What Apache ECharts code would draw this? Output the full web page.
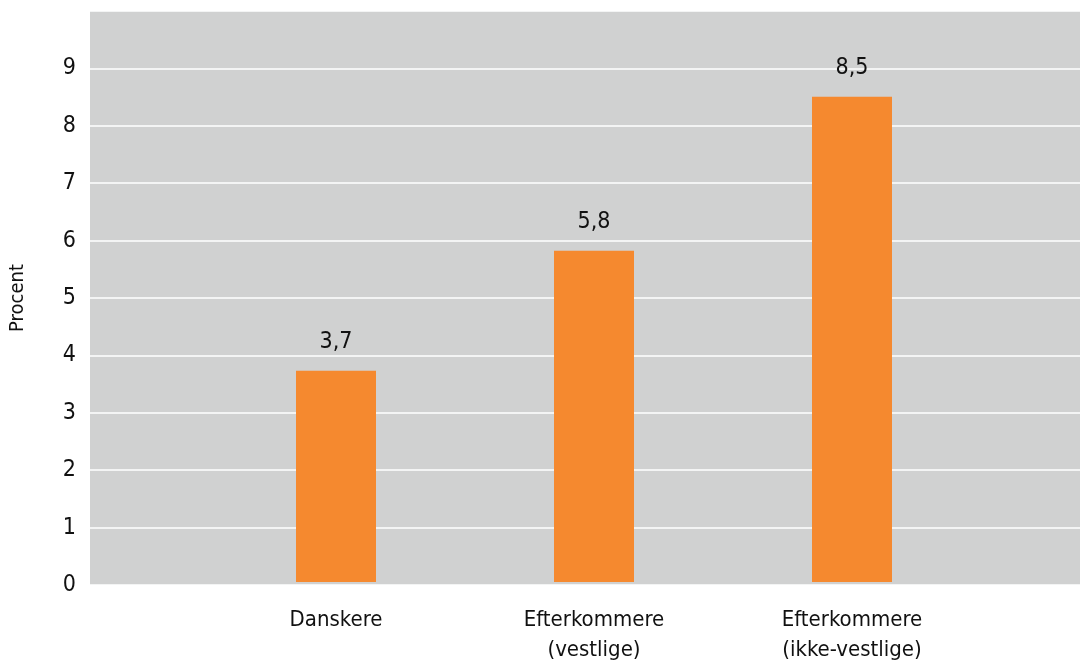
<!DOCTYPE html>
<html><head><meta charset="utf-8">
<script src="https://cdn.jsdelivr.net/npm/echarts@6/dist/echarts.min.js"></script>
<style>html,body{margin:0;padding:0;background:#fff}#c{width:1085px;height:665px}</style>
</head><body><div id="c"></div>
<script>
const categories = ['Danskere', 'Efterkommere\n(vestlige)', 'Efterkommere\n(ikke-vestlige)'];
const values = [3.7, 5.8, 8.5];
const yTicks = [0,1,2,3,4,5,6,7,8,9];
const yName = 'Procent';

const FONT = "'DejaVu Sans Condensed', 'Liberation Sans Narrow', sans-serif";
const chart = echarts.init(document.getElementById('c'), null, {renderer: 'canvas'});
const TOP = 11, BOTTOM = 80;
chart.setOption({
  animation: false,
  grid: [
    {left: 90, right: 5, top: TOP, bottom: BOTTOM, show: true, backgroundColor: '#d0d1d1', borderWidth: 0},
    {left: 207, right: 104, top: TOP, bottom: BOTTOM}
  ],
  xAxis: [
    {gridIndex: 0, type: 'value', min: 0, max: 1, show: false},
    {gridIndex: 1, type: 'category', data: categories,
     axisLine: {show: false}, axisTick: {show: false},
     axisLabel: {color: '#111', fontFamily: FONT, fontSize: 22, lineHeight: 30, margin: 23, interval: 0}}
  ],
  yAxis: [
    {gridIndex: 0, type: 'value', min: 0, max: 10, interval: 1,
     name: yName, nameLocation: 'middle', nameGap: 62, nameRotate: 90,
     nameTextStyle: {color: '#111', fontFamily: FONT, fontSize: 20},
     axisLine: {show: false}, axisTick: {show: false},
     axisLabel: {color: '#111', fontFamily: FONT, fontSize: 23, margin: 14,
       formatter: v => yTicks.indexOf(v) >= 0 ? String(v) : ''},
     splitLine: {show: true, lineStyle: {color: '#ffffff', width: 1.5}}},
    {gridIndex: 1, type: 'value', min: 0, max: 10, interval: 1, show: false, splitLine: {show: false}}
  ],
  series: [{
    type: 'bar', xAxisIndex: 1, yAxisIndex: 1, data: values, barWidth: 80,
    itemStyle: {color: '#f5892f'},
    label: {show: true, position: 'top', distance: 17, color: '#111', fontFamily: FONT, fontSize: 23,
      formatter: p => String(p.value).replace('.', ',')}
  }]
});
</script></body></html>
